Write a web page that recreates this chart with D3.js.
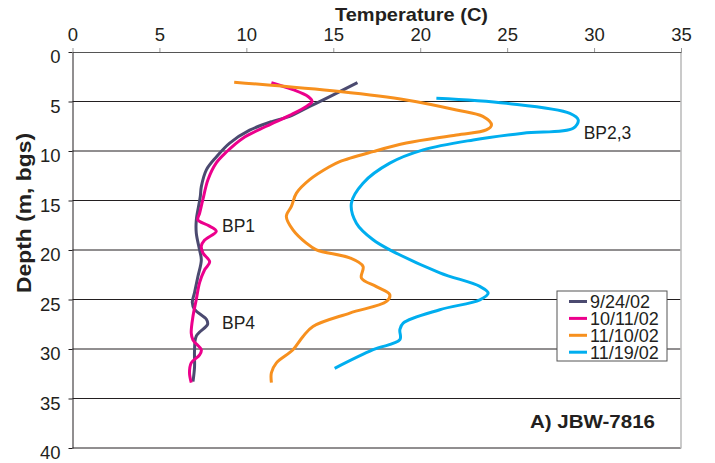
<!DOCTYPE html>
<html><head><meta charset="utf-8">
<script src="https://cdn.jsdelivr.net/npm/d3@7"></script>
<style>body{margin:0;background:#fff}svg{display:block}text{font-family:"Liberation Sans",Arial,sans-serif;fill:#231f20}</style>
</head><body><svg id="c" width="715" height="463"></svg>
<script>
// ---- data ----
const seriesNames = ["9/24/02","10/11/02","11/10/02","11/19/02"];
const seriesColors = ["#4b4a70","#ec008c","#f7901e","#00aeef"];
const tempTicks = [0,5,10,15,20,25,30,35];
const depthTicks = [0,5,10,15,20,25,30,35,40];

const depth0924 = [3.1,4.5,5.5,6.5,7.0,7.9,9.2,10.6,11.9,13.6,14.6,15.6,17.0,18.3,20.0,21.0,22.7,24.3,25.3,26.0,27.0,27.5,28.7,30.1,31.8,33.3];
const temp0924  = [16.39,14.8,13.64,12.49,11.51,10.19,9.04,8.27,7.70,7.41,7.35,7.25,7.12,7.12,7.31,7.41,7.21,7.02,6.89,7.02,7.70,7.77,7.12,7.02,7.02,6.93];

const depth1011 = [3.1,3.8,4.5,5.0,5.5,6.4,7.5,8.7,10.1,11.2,12.9,14.9,16.3,16.95,17.5,18.1,19.0,19.6,20.3,21.2,22.0,23.3,25.0,26.7,28.4,29.1,30.1,30.6,31.4,32.4,33.4];
const temp1011  = [11.44,12.68,13.55,13.78,13.45,12.49,11.15,9.8,8.85,8.27,7.79,7.5,7.31,7.21,7.79,8.27,7.6,7.41,7.5,7.89,7.6,7.31,7.12,6.93,6.83,6.93,7.41,7.31,6.83,6.73,6.83];

const depth1110 = [3.05,4.0,4.84,5.85,6.5,7.37,7.87,8.38,9.2,10.06,11.07,11.57,12.9,14.26,15.6,16.6,17.96,19.3,19.98,20.8,21.66,22.84,23.7,24.52,25.2,26.37,27.72,28.73,30.07,31.4,32.4,33.4];
const temp1110  = [9.3,15.37,19.2,22.09,23.6,24.1,23.8,22.09,19.2,17.29,15.37,14.8,13.64,12.88,12.59,12.3,12.68,13.45,14.03,15.95,16.71,16.62,17.48,18.25,18.06,15.95,13.83,13.26,12.68,11.73,11.44,11.44];

const depth1119 = [4.67,5.18,6.19,6.86,7.7,8.2,8.88,9.89,11.23,13.25,15.27,17.29,18.97,19.98,22.3,23.68,24.35,25.03,26.03,27.38,28.05,29.06,30.07,31.95];
const temp1119  = [20.93,24.97,28.61,29.09,28.8,25.92,23.05,20.17,18.25,16.71,16.04,16.33,17.29,18.25,21.13,23.43,23.91,23.43,21.13,19.02,18.83,18.83,17.29,15.08];

const labelTexts = ["BP2,3","BP1","BP4"];
const labelTemps = [29.4,8.6,8.6];
const labelDepths = [8.2,17.6,27.4];

// ---- drawing ----
const svg = d3.select("#c");
const x = d3.scaleLinear().domain([0,35]).range([72.5,681]);
const y = d3.scaleLinear().domain([0,40]).range([52,448]);

// gridlines
svg.append("g").selectAll("line").data(depthTicks.slice(1)).join("line")
  .attr("x1",x(0)).attr("x2",x(35)).attr("y1",d=>y(d)).attr("y2",d=>y(d))
  .attr("stroke","#231f20").attr("stroke-width",1);

// right border
svg.append("line").attr("x1",x(35)).attr("x2",x(35)).attr("y1",y(0)).attr("y2",y(40)+0.5)
  .attr("stroke","#bdbdbd").attr("stroke-width",1.6);

// top axis
const gTop = svg.append("g").attr("transform",`translate(0,${y(0)})`)
  .call(d3.axisTop(x).tickValues(tempTicks).tickSize(4).tickSizeOuter(0).tickPadding(7));
gTop.select(".domain").attr("stroke","#555").attr("stroke-width",1);
gTop.selectAll(".tick line").attr("stroke","#999");
gTop.selectAll("text").attr("font-size",18.5).attr("fill","#231f20");
gTop.attr("font-family",null);

// left axis
const gLeft = svg.append("g").attr("transform",`translate(${x(0)},0)`)
  .call(d3.axisLeft(y).tickValues(depthTicks).tickSize(4).tickSizeOuter(0).tickPadding(8));
gLeft.select(".domain").attr("stroke","#231f20").attr("stroke-width",1);
gLeft.selectAll(".tick line").attr("stroke","#231f20");
gLeft.selectAll("text").attr("font-size",18.5).attr("fill","#231f20").attr("y",5);
gLeft.attr("font-family",null);

// titles
svg.append("text").attr("x",411.5).attr("y",21).attr("text-anchor","middle")
  .attr("font-size",18.5).attr("font-weight","bold")
  .attr("textLength",153).attr("lengthAdjust","spacingAndGlyphs").text("Temperature (C)");
svg.append("text").attr("transform","translate(30.5,213) rotate(-90)").attr("text-anchor","middle")
  .attr("font-size",19.5).attr("font-weight","bold")
  .attr("textLength",160).attr("lengthAdjust","spacingAndGlyphs").text("Depth (m, bgs)");

// curves
const series = [
  {depth:depth0924,temp:temp0924},
  {depth:depth1011,temp:temp1011},
  {depth:depth1110,temp:temp1110},
  {depth:depth1119,temp:temp1119}
];
const line = d3.line().x(d=>x(d[0])).y(d=>y(d[1])).curve(d3.curveCatmullRom.alpha(0.5));
series.forEach((s,i)=>{
  const pts = s.depth.map((dd,j)=>[s.temp[j],dd]);
  svg.append("path").attr("d",line(pts)).attr("fill","none")
    .attr("stroke",seriesColors[i]).attr("stroke-width",3)
    .attr("stroke-linejoin","round").attr("stroke-linecap","butt");
});

// BP labels
labelTexts.forEach((t,i)=>{
  svg.append("text").attr("x",x(labelTemps[i])).attr("y",y(labelDepths[i])+6)
    .attr("font-size",17.5).text(t);
});

// legend
const lg = svg.append("g");
lg.append("rect").attr("x",557).attr("y",291).attr("width",110).attr("height",70)
  .attr("fill","#fff").attr("stroke","#555").attr("stroke-width",1);
seriesNames.forEach((n,i)=>{
  const cy = 301.5 + i*16.9;
  lg.append("line").attr("x1",569).attr("x2",587).attr("y1",cy).attr("y2",cy)
    .attr("stroke",seriesColors[i]).attr("stroke-width",3);
  lg.append("text").attr("x",590).attr("y",cy+6.4).attr("font-size",18).text(n);
});

// panel label
svg.append("text").attr("x",530).attr("y",428).attr("font-size",19).attr("font-weight","bold")
  .attr("textLength",125).attr("lengthAdjust","spacingAndGlyphs").text("A) JBW-7816");
</script></body></html>
